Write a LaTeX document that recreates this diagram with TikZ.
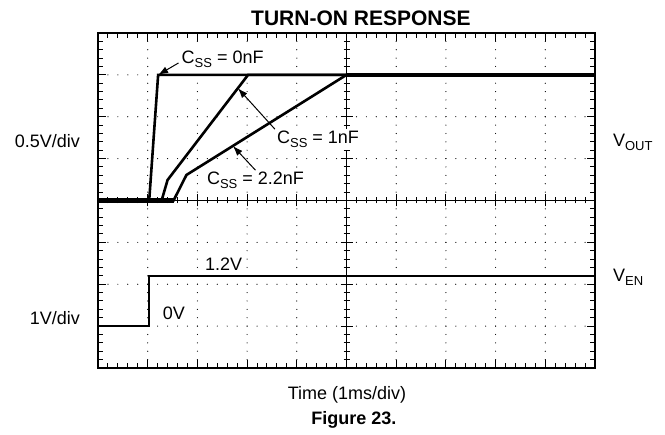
\documentclass[tikz,border=0pt]{standalone}
\usepackage{fontspec}
\setmainfont{Liberation Sans}
\usetikzlibrary{arrows.meta}
\newcommand{\lo}[1]{\raisebox{-3.5pt}{\fontsize{13}{13}\selectfont #1}}

\begin{document}
\begin{tikzpicture}[
      x=49.7pt, y=41.875pt,
      every node/.style={font=\fontsize{18}{20}\selectfont, inner sep=0pt},
      frame/.style={line width=2.5pt},
      tick/.style={line width=1pt},
      trace/.style={line width=2.6pt, line join=miter},
      csslabel/.style={anchor=base west, fill=white, inner sep=2pt},
      pointer/.style={line width=1pt, -{Latex[length=10pt,width=7pt]}}
    ]
    \useasboundingbox (-98pt,-67pt) rectangle (567pt,368pt);
    \foreach \i in {1,2,3,4,6,7,8,9}
      \foreach \k in {1,...,39}
        \fill (\i,\k/5) circle (0.6pt);
    \foreach \j in {1,2,3,5,6,7}
      \foreach \k in {1,...,49}
        \fill (\k/5,\j) circle (0.6pt);
    \draw[line width=1pt] (0,4) -- (10,4) (5,0) -- (5,8);
    \foreach \k in {1,...,49} {
      \pgfmathsetmacro\len{mod(\k,5)==0 ? 8 : 5}
      \pgfmathsetmacro\ax{mod(\k,5)==0 ? 6 : 3}
      \draw[tick] (\k/5,0) -- ++(0,\len pt);
      \draw[tick] (\k/5,8) -- ++(0,-\len pt);
      \draw[tick] (\k/5,4) ++(0,-\ax pt) -- ++(0,2*\ax pt);
    }
    \foreach \k in {1,...,39} {
      \pgfmathsetmacro\len{mod(\k,5)==0 ? 8 : 5}
      \pgfmathsetmacro\ax{mod(\k,5)==0 ? 6 : 3}
      \draw[tick] (0,\k/5) -- ++(\len pt,0);
      \draw[tick] (10,\k/5) -- ++(-\len pt,0);
      \draw[tick] (5,\k/5) ++(-\ax pt,0) -- ++(2*\ax pt,0);
    }
    \draw[frame] (0,0) rectangle (10,8);

    \draw[trace] (0,4) -- (1.03,4) -- coordinate[pos=1] (k0) (1.21,7) -- (10,7);
    \draw[trace] (0,4) -- (1.28,4) -- (1.40,4.49) -- coordinate[pos=0.873] (k1) (3.02,7) -- (10,7);
    \draw[trace] (0,4) -- (1.52,4) -- (1.78,4.61) -- coordinate[pos=0.29] (k2) (5,7) -- (10,7);
    \draw[trace, line width=4.5pt] (0,4) -- (1.52,4);
    \draw[trace, line width=4.5pt] (5,7) -- (10,7);
    \draw[trace, line width=2pt] (0,1) -- (1.03,1) -- (1.03,2.2) -- (10,2.2);

    \node[csslabel] (c0) at (1.64,7.26) {C\lo{SS} = 0nF};
    \node[csslabel] (c1) at (3.56,5.35) {C\lo{SS} = 1nF};
    \node[csslabel] (c2) at (2.15,4.37) {C\lo{SS} = 2.2nF};
    \draw[pointer] ([xshift=-1pt,yshift=1pt]c0.base west) -- (k0);
    \draw[pointer] (c1.north west) -- (k1);
    \draw[pointer] (c2.north) -- (k2);

    \node[anchor=base west] (v12) at (2.15,2.34) {1.2V};
    \node[anchor=base west] (v0) at (1.30,1.15) {0V};

    \node[font=\fontsize{21}{24}\selectfont\bfseries] (title) at (5.29,8.36) {TURN-ON RESPONSE};
    \node[anchor=east] (div1) at (-0.362,5.42) {0.5V/div};
    \node[anchor=east] (div2) at (-0.362,1.19) {1V/div};
    \node[anchor=base west] (vout) at (10.36,5.28) {V\lo{OUT}};
    \node[anchor=base west] (ven) at (10.36,2.06) {V\lo{EN}};
    \node (time) at (5.01,-0.645) {Time (1ms/div)};
    \node[font=\fontsize{18}{20}\selectfont\bfseries] (fig) at (5.15,-1.24) {Figure 23.};
\end{tikzpicture}
\end{document}
